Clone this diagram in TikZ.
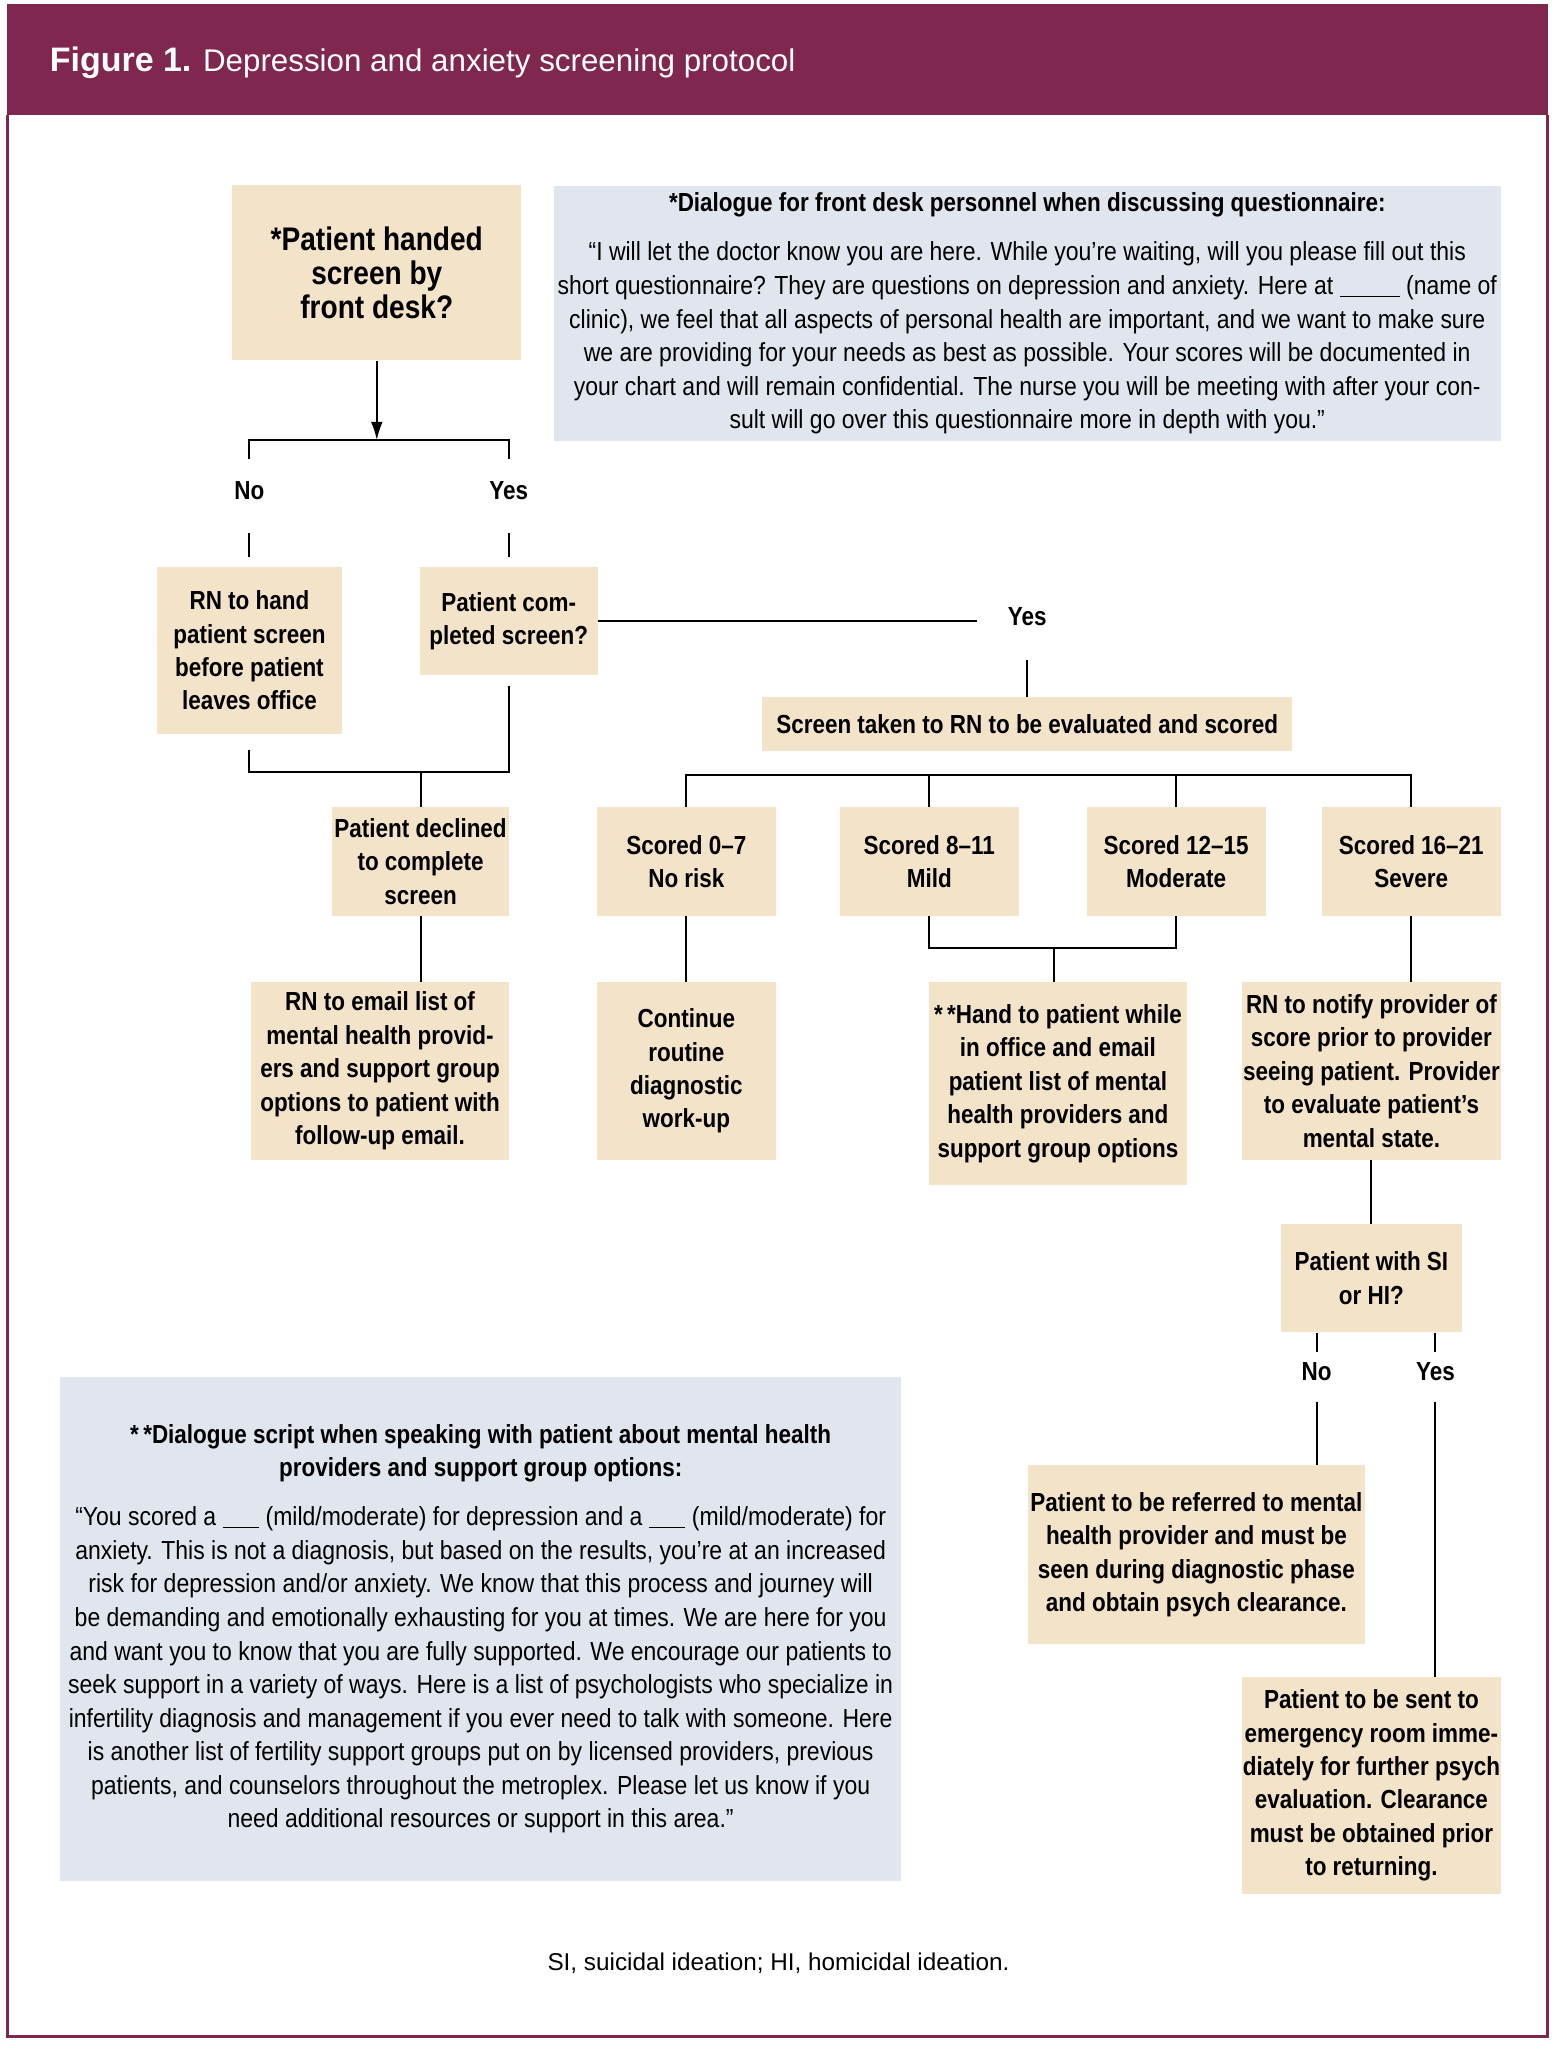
\documentclass[tikz,border=0pt]{standalone}
\usepackage{fontspec}
\setmainfont{Liberation Sans}
\newfontfamily\narrowfont[FakeStretch=0.88]{Liberation Sans}
\newfontfamily\narrowboldfont[FakeStretch=0.86]{Liberation Sans}
\usetikzlibrary{arrows.meta}

\definecolor{wine}{RGB}{127,39,78}
\definecolor{sand}{RGB}{242,227,201}
\definecolor{mist}{RGB}{225,229,238}
\newcommand{\blank}[1]{\rule[-2pt]{#1}{0.8pt}}
\newcommand{\talkhead}[1]{{\narrowboldfont\bfseries #1}}

\begin{document}
\begin{tikzpicture}
    [x=1pt, y=-1pt,
    every node/.append style={inner sep=0pt},
    wh/.style 2 args={minimum width=#1pt, minimum height=#2pt},
    stepbox/.style={fill=sand, align=center, font=\narrowboldfont\bfseries\fontsize{20}{25.6}\selectfont},
    talk/.style={fill=mist, align=center, font=\narrowfont\fontsize{20}{25.7}\selectfont},
    answer/.style={font=\narrowboldfont\bfseries\fontsize{20}{25.6}\selectfont},
    link/.style={line width=1.5pt}]
    \useasboundingbox (0,0) rectangle (1190,1568);
    \fill [wine] (5,3) rectangle (1185,88);
    \draw [wine, line width=2.3pt] (6,88) -- (6,1559) -- (1184.5,1559) -- (1184.5,88);
    \node [anchor=base west, text=white, font=\fontsize{24}{28}\selectfont] (title) at (38,55)
    {{\fontsize{26}{28}\selectfont\bfseries Figure 1.} Depression and anxiety screening protocol};

    \node [stepbox, wh={221}{134}, font=\narrowboldfont\bfseries\fontsize{25}{26}\selectfont] (hand) at (288.5,209)
    {*Patient handed\\screen by\\front desk?};
    \node [talk, wh={725}{195}] (talk1) at (786.5,240)
    {\talkhead{*Dialogue for front desk personnel when discussing questionnaire:}\\[12pt]
    “I will let the doctor know you are here. While you’re waiting, will you please fill out this\\
    short questionnaire? They are questions on depression and anxiety. Here at \blank{46pt} (name of\\
    clinic), we feel that all aspects of personal health are important, and we want to make sure\\
    we are providing for your needs as best as possible. Your scores will be documented in\\
    your chart and will remain confidential. The nurse you will be meeting with after your con-\\
    sult will go over this questionnaire more in depth with you.”};

    \coordinate (split1) at (288.5,337);
    \node [answer, wh={40}{48}] (no1) at (191,376) {No};
    \node [answer, wh={40}{48}] (yes1) at (389.5,376) {Yes};
    \node [stepbox, wh={142}{128}] (rn) at (191,498)
    {RN to hand\\patient screen\\before patient\\leaves office};
    \node [stepbox, wh={136}{83}] (done) at (389.5,475.5)
    {Patient com-\\pleted screen?};
    \node [answer, wh={76}{60}] (yes2) at (786.5,472) {Yes};
    \node [stepbox, wh={406}{41}] (scored) at (786.5,554.5)
    {Screen taken to RN to be evaluated and scored};

    \coordinate (split2) at (322,591);
    \node [stepbox, wh={136}{83}] (declined) at (322,659.5)
    {Patient declined\\to complete\\screen};
    \node [stepbox, wh={198}{136}] (email) at (291,820)
    {RN to email list of\\mental health provid-\\ers and support group\\options to patient with\\follow-up email.};

    \coordinate (split3) at (786.5,593);
    \node [stepbox, wh={137}{83}] (s1) at (525.5,659.5) {Scored 0–7\\No risk};
    \node [stepbox, wh={137}{83}] (s2) at (711.5,659.5) {Scored 8–11\\Mild};
    \node [stepbox, wh={137}{83}] (s3) at (900.5,659.5) {Scored 12–15\\Moderate};
    \node [stepbox, wh={137}{83}] (s4) at (1080.5,659.5) {Scored 16–21\\Severe};

    \coordinate (split4) at (807,726);
    \node [stepbox, wh={137}{136}] (routine) at (525.5,820)
    {Continue\\routine\\diagnostic\\work-up};
    \node [stepbox, wh={198}{155}] (handout) at (810,829.5)
    {*\,*Hand to patient while\\in office and email\\patient list of mental\\health providers and\\support group options};
    \node [stepbox, wh={198}{136}] (notify) at (1050,820)
    {RN to notify provider of\\score prior to provider\\seeing patient. Provider\\to evaluate patient’s\\mental state.};
    \node [stepbox, wh={138}{83}] (sihi) at (1050,978.5)
    {Patient with SI\\or HI?};
    \node [answer, wh={40}{30}] (no2) at (1008,1050) {No};
    \node [answer, wh={40}{30}] (yes3) at (1099,1050) {Yes};
    \node [stepbox, wh={258}{137}] (refer) at (916,1190.5)
    {Patient to be referred to mental\\health provider and must be\\seen during diagnostic phase\\and obtain psych clearance.};
    \node [stepbox, wh={198}{166}] (er) at (1050,1367)
    {Patient to be sent to\\emergency room imme-\\diately for further psych\\evaluation. Clearance\\must be obtained prior\\to returning.};

    \node [talk, wh={644}{386}] (talk2) at (368,1247)
    {\talkhead{*\,*Dialogue script when speaking with patient about mental health}\\
    \talkhead{providers and support group options:}\\[12pt]
    “You scored a \blank{28pt} (mild/moderate) for depression and a \blank{28pt} (mild/moderate) for\\
    anxiety. This is not a diagnosis, but based on the results, you’re at an increased\\
    risk for depression and/or anxiety. We know that this process and journey will\\
    be demanding and emotionally exhausting for you at times. We are here for you\\
    and want you to know that you are fully supported. We encourage our patients to\\
    seek support in a variety of ways. Here is a list of psychologists who specialize in\\
    infertility diagnosis and management if you ever need to talk with someone. Here\\
    is another list of fertility support groups put on by licensed providers, previous\\
    patients, and counselors throughout the metroplex. Please let us know if you\\
    need additional resources or support in this area.”};
    \node [font=\fontsize{18.6}{22}\selectfont] (note) at (596,1503)
    {SI, suicidal ideation; HI, homicidal ideation.};

    \draw [link, -{Latex[length=14pt,width=9pt]}] (hand) -- (split1);
    \draw [link] (no1) |- (split1) -| (yes1);
    \draw [link, shorten <=8pt, shorten >=7pt] (no1) -- (rn);
    \draw [link, shorten <=8pt, shorten >=7pt] (yes1) -- (done);
    \draw [link] (done) -- (done.east -| yes2.west);
    \draw [link, shorten <=3pt] (yes2) -- (scored);
    \draw [link, shorten <=12pt] (rn) |- (split2);
    \draw [link, shorten <=8pt] (done) |- (split2);
    \draw [link] (split2) -- (declined);
    \draw [link] (declined.south) -- (declined.south |- email.north);
    \draw [link] (s1) |- (split3) -| (s4);
    \draw [link] (s2) -- (s2 |- split3);
    \draw [link] (s3) -- (s3 |- split3);
    \draw [link] (s1) -- (routine);
    \draw [link] (s2) |- (split4) -| (s3);
    \draw [link] (split4) -- (split4 |- handout.north);
    \draw [link] (s4) -- (s4 |- notify.north);
    \draw [link] (notify) -- (sihi);
    \draw [link] (sihi.south -| no2) -- (no2);
    \draw [link] (sihi.south -| yes3) -- (yes3);
    \draw [link, shorten <=8pt] (no2) -- (no2 |- refer.north);
    \draw [link, shorten <=8pt] (yes3) -- (yes3 |- er.north);
\end{tikzpicture}
\end{document}
